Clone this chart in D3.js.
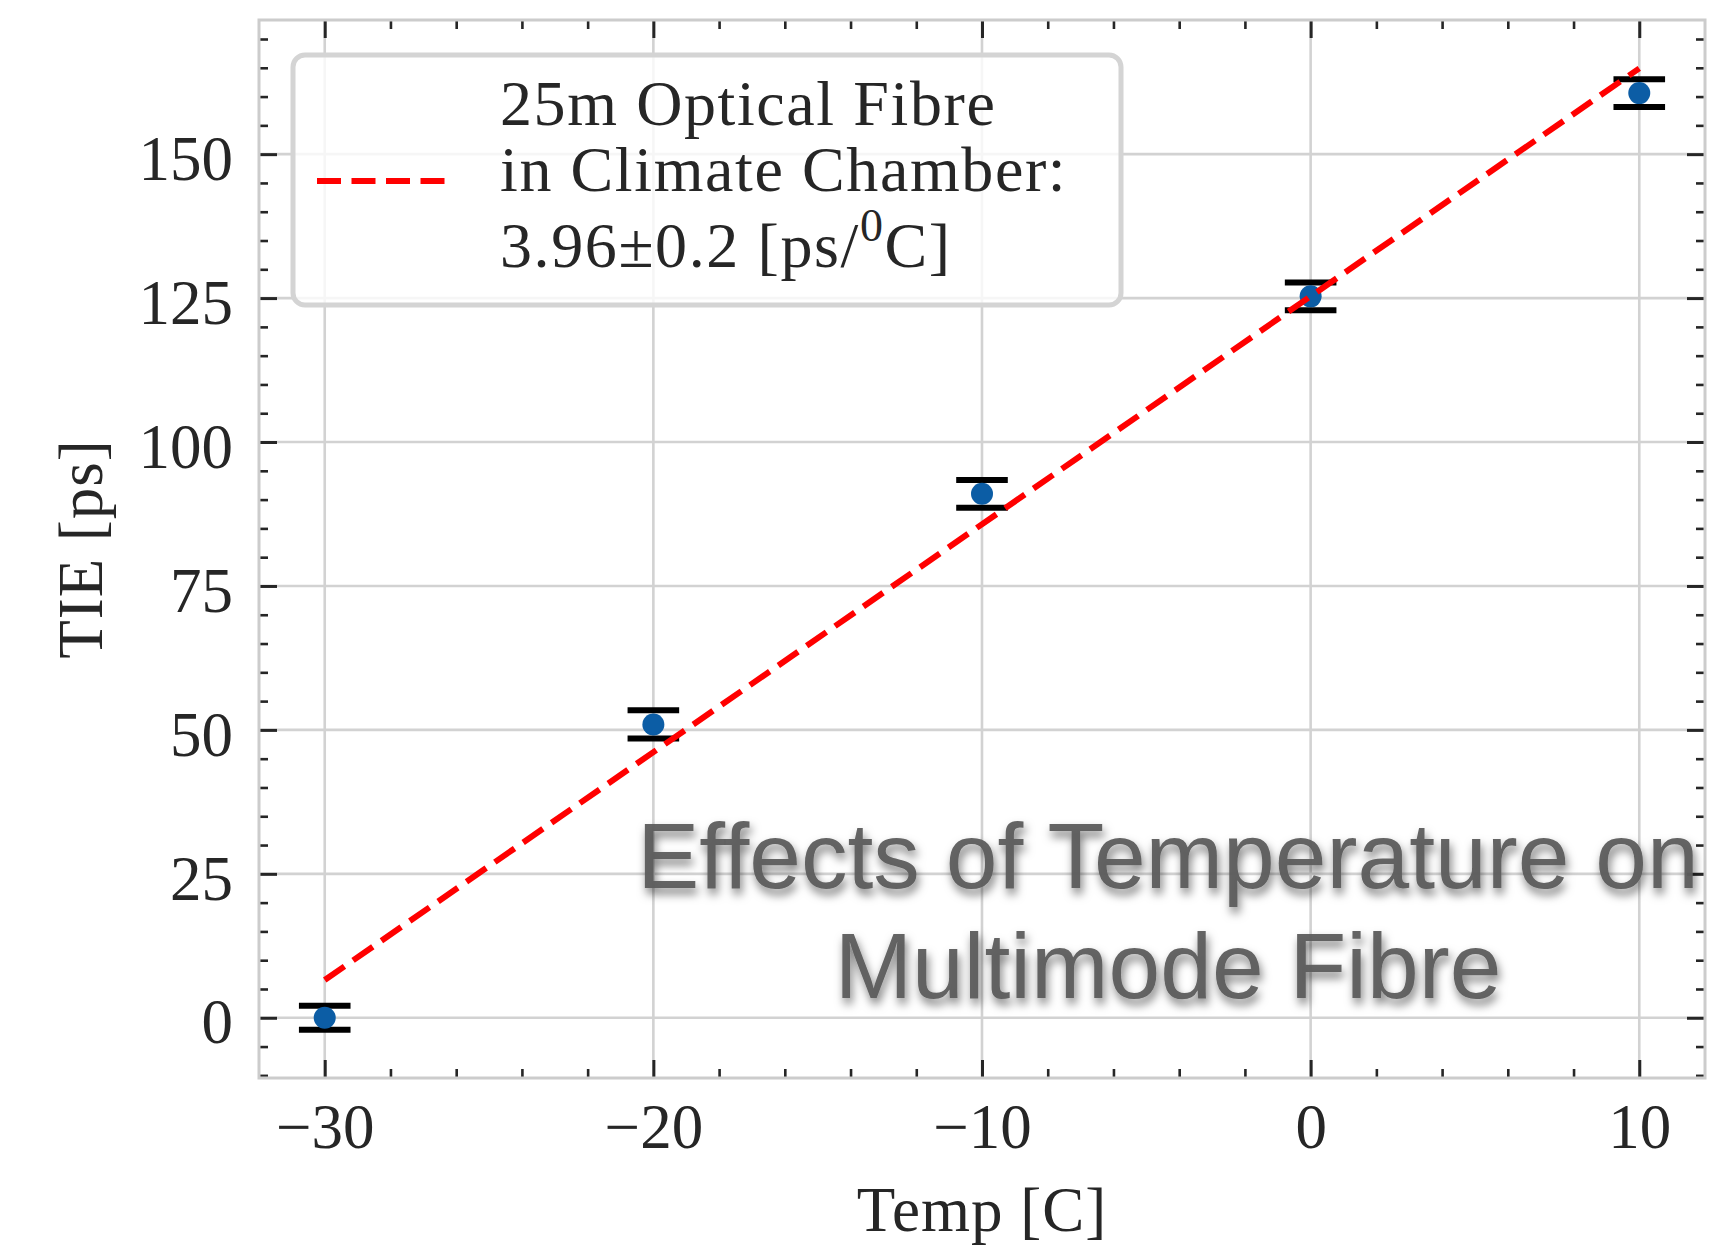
<!DOCTYPE html>
<html>
<head>
<meta charset="utf-8">
<script src="https://cdn.jsdelivr.net/npm/d3@7"></script>
<style>
body { margin: 0; background: #fff; }
svg { display: block; }
.tick text { font-family: "Liberation Serif", "DejaVu Serif", serif; fill: #262626; }
</style>
</head>
<body>
<script>
// measured points
let temps = [-30, -20, -10, 0, 10];
let tie = [0, 50.95, 91.0, 125.3, 160.6];
let tieErr = [2.1, 2.45, 2.4, 2.4, 2.4];

// fitted line end points
let fitTemps = [-30, 10];
let fitTie = [6.55, 164.9];

let xTicks = [-30, -20, -10, 0, 10];
let xMinor = [-28, -26, -24, -22, -18, -16, -14, -12, -8, -6, -4, -2, 2, 4, 6, 8];
let yTicks = [0, 25, 50, 75, 100, 125, 150];
let yMinor = [-10, -5, 5, 10, 15, 20, 30, 35, 40, 45, 55, 60, 65, 70, 80, 85, 90, 95,
              105, 110, 115, 120, 130, 135, 140, 145, 155, 160, 165, 170];

let legendText = ["25m Optical Fibre", "in Climate Chamber:"];
let titleLines = ["Effects of Temperature on", "Multimode Fibre"];

let margin = {top: 20, right: 11, bottom: 170, left: 259}
    , width = 1716 - margin.left - margin.right
    , height = 1248 - margin.top - margin.bottom;

let x = d3.scaleLinear().domain([-32, 12]).range([0, width]);
let y = d3.scaleLinear().domain([-10.46, 173.3]).range([height, 0]);

let svg = d3.select("body").append("svg")
    .attr("width", 1716)
    .attr("height", 1248);

let defs = svg.append("defs");
let shadow = defs.append("filter").attr("id", "shadow")
    .attr("x", "-10%").attr("y", "-30%").attr("width", "120%").attr("height", "160%");
shadow.append("feDropShadow")
    .attr("dx", 2).attr("dy", 6).attr("stdDeviation", 5)
    .attr("flood-color", "#000").attr("flood-opacity", 0.55);

let g = svg.append("g")
    .attr("transform", "translate(" + margin.left + "," + margin.top + ")");

// grid
g.append("g").selectAll("line")
    .data(xTicks)
    .join("line")
    .attr("x1", d => x(d)).attr("x2", d => x(d))
    .attr("y1", 0).attr("y2", height)
    .attr("stroke", "#d2d2d2").attr("stroke-width", 2.6);
g.append("g").selectAll("line")
    .data(yTicks)
    .join("line")
    .attr("x1", 0).attr("x2", width)
    .attr("y1", d => y(d)).attr("y2", d => y(d))
    .attr("stroke", "#d2d2d2").attr("stroke-width", 2.6);

// axes (ticks inward on all four sides)
let styleAxis = (sel, sw) => {
    sel.select(".domain").remove();
    sel.selectAll(".tick line").attr("stroke", "#262626").attr("stroke-width", sw);
};

g.append("g")
    .attr("transform", "translate(0," + height + ")")
    .call(d3.axisBottom(x).tickValues(xTicks).tickSizeInner(-18).tickSizeOuter(0).tickPadding(25))
    .call(sel => styleAxis(sel, 3))
    .selectAll("text").attr("font-size", 63);
g.append("g")
    .attr("transform", "translate(0," + height + ")")
    .call(d3.axisBottom(x).tickValues(xMinor).tickSizeInner(-9).tickSizeOuter(0).tickFormat(""))
    .call(sel => styleAxis(sel, 2.6));
g.append("g")
    .call(d3.axisTop(x).tickValues(xTicks).tickSizeInner(-18).tickSizeOuter(0).tickFormat(""))
    .call(sel => styleAxis(sel, 3));
g.append("g")
    .call(d3.axisTop(x).tickValues(xMinor).tickSizeInner(-9).tickSizeOuter(0).tickFormat(""))
    .call(sel => styleAxis(sel, 2.6));

g.append("g")
    .call(d3.axisLeft(y).tickValues(yTicks).tickSizeInner(-18).tickSizeOuter(0).tickPadding(26))
    .call(sel => styleAxis(sel, 3))
    .selectAll("text").attr("font-size", 63).attr("dy", "0.4em");
g.append("g")
    .call(d3.axisLeft(y).tickValues(yMinor).tickSizeInner(-9).tickSizeOuter(0).tickFormat(""))
    .call(sel => styleAxis(sel, 2.6));
g.append("g")
    .attr("transform", "translate(" + width + ",0)")
    .call(d3.axisRight(y).tickValues(yTicks).tickSizeInner(-18).tickSizeOuter(0).tickFormat(""))
    .call(sel => styleAxis(sel, 3));
g.append("g")
    .attr("transform", "translate(" + width + ",0)")
    .call(d3.axisRight(y).tickValues(yMinor).tickSizeInner(-9).tickSizeOuter(0).tickFormat(""))
    .call(sel => styleAxis(sel, 2.6));

// spines
g.append("rect")
    .attr("width", width).attr("height", height)
    .attr("fill", "none").attr("stroke", "#cccccc").attr("stroke-width", 3);

// error bar caps
let pts = temps.map((t, i) => ({t: t, v: tie[i], e: tieErr[i]}));
let caps = g.append("g");
caps.selectAll(".cap-hi")
    .data(pts)
    .join("line")
    .attr("x1", d => x(d.t) - 25.8).attr("x2", d => x(d.t) + 25.8)
    .attr("y1", d => y(d.v + d.e)).attr("y2", d => y(d.v + d.e))
    .attr("stroke", "#000").attr("stroke-width", 6);
caps.selectAll(".cap-lo")
    .data(pts)
    .join("line")
    .attr("x1", d => x(d.t) - 25.8).attr("x2", d => x(d.t) + 25.8)
    .attr("y1", d => y(d.v - d.e)).attr("y2", d => y(d.v - d.e))
    .attr("stroke", "#000").attr("stroke-width", 6);

// markers
g.append("g").selectAll("circle")
    .data(pts)
    .join("circle")
    .attr("cx", d => x(d.t))
    .attr("cy", d => y(d.v))
    .attr("r", 11)
    .attr("fill", "#0C5DA5");

// fit line
g.append("path")
    .datum(fitTemps.map((t, i) => [t, fitTie[i]]))
    .attr("fill", "none")
    .attr("stroke", "#ff0000")
    .attr("stroke-width", 6)
    .attr("stroke-dasharray", "24,10.5")
    .attr("d", d3.line().x(d => x(d[0])).y(d => y(d[1])));

// legend
let legend = svg.append("g");
legend.append("rect")
    .attr("x", 293).attr("y", 55)
    .attr("width", 828).attr("height", 250)
    .attr("rx", 12)
    .attr("fill", "#fff").attr("fill-opacity", 0.8)
    .attr("stroke", "#d4d4d4").attr("stroke-width", 5);
legend.append("line")
    .attr("x1", 317).attr("x2", 445)
    .attr("y1", 181).attr("y2", 181)
    .attr("stroke", "#ff0000").attr("stroke-width", 6)
    .attr("stroke-dasharray", "24,10.5");
let lfont = "Liberation Serif, DejaVu Serif, serif";
legend.selectAll("text.l")
    .data(legendText)
    .join("text")
    .attr("class", "l")
    .attr("x", 500)
    .attr("y", (d, i) => 125 + i * 66)
    .attr("font-family", lfont)
    .attr("font-size", 64)
    .attr("letter-spacing", 1.6)
    .attr("fill", "#262626")
    .text(d => d);
let l3 = legend.append("text")
    .attr("x", 500).attr("y", 267)
    .attr("font-family", lfont)
    .attr("font-size", 64)
    .attr("letter-spacing", 1.6)
    .attr("fill", "#262626");
l3.append("tspan").text("3.96±0.2 [ps/");
l3.append("tspan").attr("dy", -26).attr("font-size", 46).text("0");
l3.append("tspan").attr("dy", 26).text("C]");

// axis labels
svg.append("text")
    .attr("x", margin.left + width / 2)
    .attr("y", 1231)
    .attr("text-anchor", "middle")
    .attr("font-family", lfont)
    .attr("font-size", 63)
    .attr("letter-spacing", 1)
    .attr("fill", "#262626")
    .text("Temp [C]");
svg.append("text")
    .attr("transform", "translate(102," + (margin.top + height / 2) + ") rotate(-90)")
    .attr("text-anchor", "middle")
    .attr("font-family", lfont)
    .attr("font-size", 63)
    .attr("letter-spacing", 1)
    .attr("fill", "#262626")
    .text("TIE [ps]");

// overlaid title
svg.append("g").selectAll("text")
    .data(titleLines)
    .join("text")
    .attr("x", 1168)
    .attr("y", (d, i) => 888 + i * 110)
    .attr("text-anchor", "middle")
    .attr("font-family", "Liberation Sans, Arial, sans-serif")
    .attr("font-size", 93)
    .attr("fill", "#5c5c5c")
    .attr("fill-opacity", 0.95)
    .attr("filter", "url(#shadow)")
    .text(d => d);
</script>
</body>
</html>
